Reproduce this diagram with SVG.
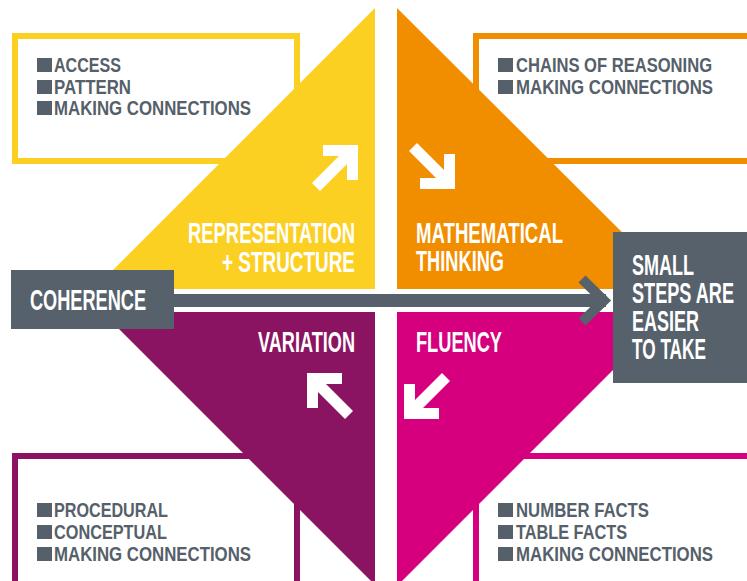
<svg xmlns="http://www.w3.org/2000/svg" width="747" height="581" viewBox="0 0 747 581">
  <style>
    .sm { font-family: "Liberation Sans", Arial, sans-serif; font-weight: bold; font-size: 19.5px; fill: #55606a; }
    .lg { font-family: "Liberation Sans", Arial, sans-serif; font-weight: bold; font-size: 29px; fill: #ffffff; }
    .bul { fill: #55606a; }
    .wa { fill: #ffffff; }
  </style>
  <defs>
    <polygon id="arr" points="0,0 0,35 -11,35 -11,19 -38,46 -46,38 -19,11 -35,11 -35,0"/>
  </defs>
  <rect width="747" height="581" fill="#ffffff"/>

  <!-- info boxes -->
  <g id="box-rs">
    <rect x="15" y="36" width="282" height="125" fill="#ffffff" stroke="#fcd022" stroke-width="6"/>
    <rect class="bul" x="37" y="58" width="15" height="14"/>
    <rect class="bul" x="37" y="80" width="15" height="14"/>
    <rect class="bul" x="37" y="101" width="15" height="14"/>
    <text class="sm" transform="translate(54,72) scale(0.85,1)" textLength="78.8" lengthAdjust="spacingAndGlyphs">ACCESS</text>
    <text class="sm" transform="translate(54,93.5) scale(0.85,1)" textLength="90.6" lengthAdjust="spacingAndGlyphs">PATTERN</text>
    <text class="sm" transform="translate(54,115) scale(0.85,1)" textLength="231.8" lengthAdjust="spacingAndGlyphs">MAKING CONNECTIONS</text>
  </g>
  <g id="box-mt">
    <rect x="476" y="36" width="300" height="125" fill="#ffffff" stroke="#f18e00" stroke-width="6"/>
    <rect class="bul" x="498" y="58" width="15" height="14"/>
    <rect class="bul" x="498" y="80" width="15" height="14"/>
    <text class="sm" transform="translate(516,72) scale(0.85,1)" textLength="230.6" lengthAdjust="spacingAndGlyphs">CHAINS OF REASONING</text>
    <text class="sm" transform="translate(516,93.5) scale(0.85,1)" textLength="231.8" lengthAdjust="spacingAndGlyphs">MAKING CONNECTIONS</text>
  </g>
  <g id="box-var">
    <rect x="15" y="456" width="282" height="200" fill="#ffffff" stroke="#8a1461" stroke-width="6"/>
    <rect class="bul" x="37" y="503" width="15" height="14"/>
    <rect class="bul" x="37" y="525" width="15" height="14"/>
    <rect class="bul" x="37" y="547" width="15" height="14"/>
    <text class="sm" transform="translate(54,517) scale(0.85,1)" textLength="134.1" lengthAdjust="spacingAndGlyphs">PROCEDURAL</text>
    <text class="sm" transform="translate(54,539) scale(0.85,1)" textLength="132.9" lengthAdjust="spacingAndGlyphs">CONCEPTUAL</text>
    <text class="sm" transform="translate(54,561) scale(0.85,1)" textLength="231.8" lengthAdjust="spacingAndGlyphs">MAKING CONNECTIONS</text>
  </g>
  <g id="box-flu">
    <rect x="476" y="456" width="300" height="200" fill="#ffffff" stroke="#d6007f" stroke-width="6"/>
    <rect class="bul" x="498" y="503" width="15" height="14"/>
    <rect class="bul" x="498" y="525" width="15" height="14"/>
    <rect class="bul" x="498" y="547" width="15" height="14"/>
    <text class="sm" transform="translate(516,517) scale(0.85,1)" textLength="156.5" lengthAdjust="spacingAndGlyphs">NUMBER FACTS</text>
    <text class="sm" transform="translate(516,539) scale(0.85,1)" textLength="130.6" lengthAdjust="spacingAndGlyphs">TABLE FACTS</text>
    <text class="sm" transform="translate(516,561) scale(0.85,1)" textLength="231.8" lengthAdjust="spacingAndGlyphs">MAKING CONNECTIONS</text>
  </g>

  <!-- quadrants -->
  <g id="representation-structure">
    <polygon points="375,8 375,289 94,289" fill="#fcd022"/>
    <use href="#arr" class="wa" transform="translate(358,145)"/>
    <text class="lg" transform="translate(355,243) scale(0.65,1)" text-anchor="end" textLength="256.9" lengthAdjust="spacingAndGlyphs">REPRESENTATION</text>
    <text class="lg" transform="translate(355,272) scale(0.65,1)" text-anchor="end" textLength="204.6" lengthAdjust="spacingAndGlyphs">+ STRUCTURE</text>
  </g>
  <g id="mathematical-thinking">
    <polygon points="397,8 397,289 679,289" fill="#f18e00"/>
    <use href="#arr" class="wa" transform="translate(455,189) rotate(90)"/>
    <text class="lg" transform="translate(416,243) scale(0.65,1)" textLength="226.2" lengthAdjust="spacingAndGlyphs">MATHEMATICAL</text>
    <text class="lg" transform="translate(416,271) scale(0.65,1)" textLength="135.4" lengthAdjust="spacingAndGlyphs">THINKING</text>
  </g>
  <g id="variation">
    <polygon points="375,312 375,585 102,312" fill="#8a1461"/>
    <use href="#arr" class="wa" transform="translate(307,373) rotate(-90)"/>
    <text class="lg" transform="translate(355,352) scale(0.65,1)" text-anchor="end" textLength="149.2" lengthAdjust="spacingAndGlyphs">VARIATION</text>
  </g>
  <g id="fluency">
    <polygon points="397,312 397,586 671,312" fill="#d6007f"/>
    <use href="#arr" class="wa" transform="translate(404,419) rotate(180)"/>
    <text class="lg" transform="translate(416,352) scale(0.65,1)" textLength="132.3" lengthAdjust="spacingAndGlyphs">FLUENCY</text>
  </g>

  <!-- connector -->
  <g id="connectors">
    <rect x="170" y="294" width="436" height="13" fill="#56616b"/>
    <polyline points="582,279 604,300.5 582,322" fill="none" stroke="#56616b" stroke-width="10" stroke-miterlimit="10"/>
  </g>

  <g id="coherence">
    <rect x="11" y="270" width="163" height="59" fill="#56616b"/>
    <text class="lg" transform="translate(30,310) scale(0.65,1)" font-size="30" textLength="178.5" lengthAdjust="spacingAndGlyphs">COHERENCE</text>
  </g>
  <g id="small-steps">
    <rect x="613" y="232" width="134" height="151" fill="#56616b"/>
    <text class="lg" transform="translate(632,275) scale(0.65,1)" textLength="95.4" lengthAdjust="spacingAndGlyphs">SMALL</text>
    <text class="lg" transform="translate(632,303) scale(0.65,1)" textLength="156.9" lengthAdjust="spacingAndGlyphs">STEPS ARE</text>
    <text class="lg" transform="translate(632,331) scale(0.65,1)" textLength="103.1" lengthAdjust="spacingAndGlyphs">EASIER</text>
    <text class="lg" transform="translate(632,359) scale(0.65,1)" textLength="113.8" lengthAdjust="spacingAndGlyphs">TO TAKE</text>
  </g>
</svg>
